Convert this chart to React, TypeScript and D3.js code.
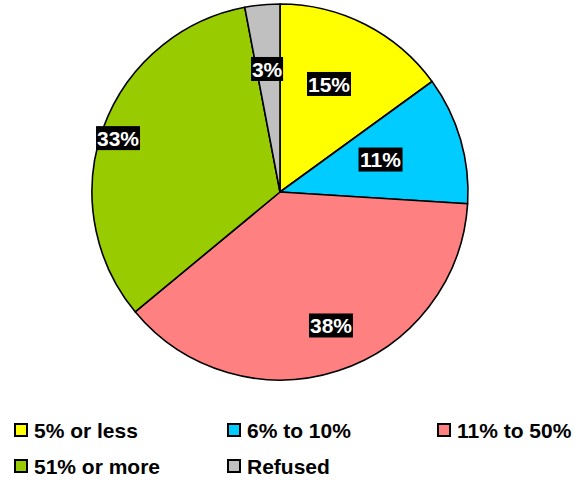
import React from "react";
import * as d3 from "d3";

const categories = ["5% or less", "6% to 10%", "11% to 50%", "51% or more", "Refused"];
const values = [15, 11, 38, 33, 3];
const colors = ["#FFFF00", "#00CCFF", "#FF8080", "#99CC00", "#C0C0C0"];
const labelRadius = [0.631, 0.562, 0.76, 0.908, 0.658];
const labelAngleShift = [-2.6, -1.7, -2.9, -1.4, -0.6];

const W = 574, H = 481;
const cx = 280, cy = 192, R = 188;

export default function App() {
  const pie = d3.pie<number>().sort(null).value((d) => d)(values);
  const arc = d3.arc<d3.PieArcDatum<number>>().innerRadius(0).outerRadius(R);
  const total = d3.sum(values);
  const legendCols = [14, 227, 437];
  const legendRows = [430, 466];
  return (
    <svg width={W} height={H} style={{ position: "absolute", left: 0, top: 0, fontFamily: "'Liberation Sans', Arial, sans-serif" }}>
      <rect width={W} height={H} fill="#fff" />
      <g transform={`translate(${cx},${cy})`}>
        {pie.map((p, i) => (
          <path key={i} d={arc(p) || ""} fill={colors[i]} stroke="#000" strokeWidth={1.6} strokeLinejoin="round" />
        ))}
        {pie.map((p, i) => {
          const a = (p.startAngle + p.endAngle) / 2 + (labelAngleShift[i] * Math.PI) / 180;
          const r = R * labelRadius[i];
          const x = Math.sin(a) * r;
          const y = -Math.cos(a) * r;
          const txt = `${Math.round((values[i] / total) * 100)}%`;
          const w = txt.length === 2 ? 32 : 44;
          return (
            <g key={"l" + i} transform={`translate(${x},${y})`}>
              <rect x={-w / 2} y={-12} width={w} height={24} fill="#000" />
              <text textAnchor="middle" dy="0.36em" fill="#fff" fontWeight="bold" fontSize={21}>{txt}</text>
            </g>
          );
        })}
      </g>
      {categories.map((c, i) => {
        const x = legendCols[i % 3];
        const y = legendRows[Math.floor(i / 3)];
        return (
          <g key={"g" + i} transform={`translate(${x},${y})`}>
            <rect x={1} y={-6} width={12} height={12} fill={colors[i]} stroke="#000" strokeWidth={2} />
            <text x={20} dy="0.36em" fontSize={21} fontWeight="bold" fill="#000">{c}</text>
          </g>
        );
      })}
    </svg>
  );
}
